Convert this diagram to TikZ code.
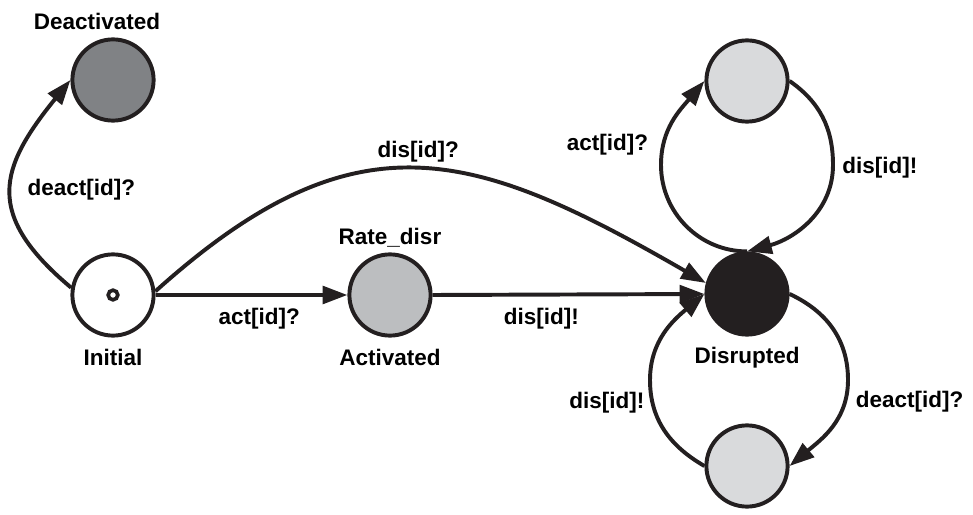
\documentclass[tikz,border=0pt]{standalone}
\usepackage{fontspec}
\setmainfont{Liberation Sans}
\usetikzlibrary{arrows.meta}
\definecolor{ink}{HTML}{231F20}
\definecolor{deactgray}{HTML}{808285}
\definecolor{actgray}{HTML}{BCBEC0}
\definecolor{lightgray}{HTML}{D9DADC}

\begin{document}
\begin{tikzpicture}[x=0.025cm,y=0.025cm,
    font=\fontsize{16}{19}\selectfont\bfseries,
    state/.style={circle, draw=ink, line width=2.8pt, minimum size=2.03cm, inner sep=0pt},
    trans/.style={draw=ink, line width=2.8pt, -{Triangle[length=0.62cm,width=0.44cm]}}]
    \useasboundingbox (0,0) rectangle (973,514);
    % states
    \node[state, fill=deactgray, label={[xshift=-0.4cm,label distance=2pt]above:Deactivated}] (deact) at (113,434) {};
    \node[state, fill=white, label={[label distance=5pt]below:Initial}] (init) at (113,219) {};
    \node[circle, draw=ink, line width=2.6pt, minimum size=0.24cm, inner sep=0pt] (initdot) at (init) {};
    \node[state, fill=actgray, label={above:Rate\_disr}, label={[label distance=5pt]below:Activated}] (act) at (390,219) {};
    \node[state, fill=ink, label={[label distance=4pt]below:Disrupted}] (dis) at (747,220) {};
    \node[state, fill=lightgray] (top) at (747,433) {};
    \node[state, fill=lightgray] (bot) at (747,48) {};
    % loop sides
    \coordinate (toploopl) at (661,349);
    \coordinate (toploopr) at (833,349);
    \coordinate (botloopl) at (650,134);
    \coordinate (botloopr) at (848,134);
    % transitions
    \draw[trans] (init.170) to[out=140,in=-129,looseness=1.4] node[pos=0.5,right=7pt] {deact[id]?} (deact.west);
    \draw[trans] (init.east) -- node[below=5pt,pos=0.54] {act[id]?} (act.west);
    \draw[trans] (act.east) -- node[below=5pt,pos=0.4] {dis[id]!} (dis.west);
    \draw[trans] (init.5) to[out=42,in=150,looseness=1.25] node[above,pos=0.5] {dis[id]?} (dis.165);
    % loop above
    \draw[trans] (dis.north) to[out=180,in=-90] (toploopl)
        to[out=90,in=-130] node[left=6pt,pos=0.2] {act[id]?} (top.west);
    \draw[trans] (top.east) to[out=-35,in=90] (toploopr)
        to[out=-90,in=15] node[right=2pt,pos=0.02] {dis[id]!} (dis.north);
    % loop below
    \draw[trans] (dis.east) to[out=-25,in=90] (botloopr)
        to[out=-90,in=40] node[right=3pt,pos=0.2] {deact[id]?} (bot.east);
    \draw[trans] (bot.west) to[out=150,in=-90] node[left=1pt,pos=0.8] {dis[id]!} (botloopl)
        to[out=90,in=-140] (dis.west);
\end{tikzpicture}
\end{document}
